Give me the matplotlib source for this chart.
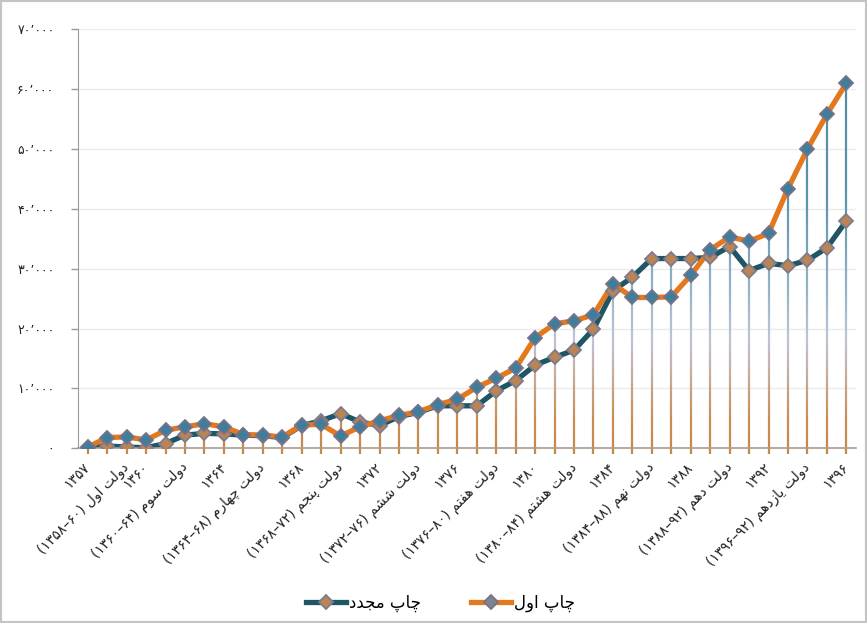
import numpy as np
import matplotlib.pyplot as plt
from matplotlib.collections import LineCollection
from matplotlib.colors import LinearSegmentedColormap
from matplotlib.lines import Line2D
from matplotlib.patches import Rectangle

plt.rcParams['font.family'] = ['DejaVu Sans']

years = list(range(1357, 1397))
first_print = [200, 1800, 1900, 1400, 3000, 3600, 4100, 3600, 2300, 2200,
               1900, 3900, 4000, 2050, 3600, 4600, 5500, 6100, 7300, 8200,
               10200, 11700, 13400, 18500, 20800, 21300, 22300, 27500, 25200, 25200,
               25300, 28900, 33200, 35300, 34600, 35900, 43400, 50000, 55800, 61000]
reprint = [100, 400, 200, 100, 800, 2200, 2500, 2400, 2200, 2100,
           1800, 3800, 4600, 5800, 4400, 3800, 5300, 6000, 7100, 7100,
           7100, 9600, 11300, 13900, 15200, 16400, 19900, 26300, 28600, 31700,
           31700, 31700, 31900, 33700, 29700, 30900, 30500, 31400, 33500, 38000]

year_ticks = [1357, 1360, 1364, 1368, 1372, 1376, 1380, 1384, 1388, 1392, 1396]
gov_ticks = [1359, 1362, 1366, 1370, 1374, 1378, 1382, 1386, 1390, 1394]
gov_names = ['دولت اول', 'دولت سوم', 'دولت چهارم', 'دولت پنجم', 'دولت ششم',
             'دولت هفتم', 'دولت هشتم', 'دولت نهم', 'دولت دهم', 'دولت یازدهم']
gov_spans = ['1358-60', '1360-64', '1364-68', '1368-72', '1372-76',
             '1376-80', '1380-84', '1384-88', '1388-92', '1396-92']
series_names = ['چاپ مجدد', 'چاپ اول']

FA = str.maketrans('0123456789-', '۰۱۲۳۴۵۶۷۸۹–')

# isolated, final, initial, medial
JOIN = {
    'ا': ('\ufe8d', '\ufe8e', None, None),
    'د': ('\ufea9', '\ufeaa', None, None),
    'ر': ('\ufead', '\ufeae', None, None),
    'ز': ('\ufeaf', '\ufeb0', None, None),
    'و': ('\ufeed', '\ufeee', None, None),
    'ب': ('\ufe8f', '\ufe90', '\ufe91', '\ufe92'),
    'پ': ('\ufb56', '\ufb57', '\ufb58', '\ufb59'),
    'ت': ('\ufe95', '\ufe96', '\ufe97', '\ufe98'),
    'ج': ('\ufe9d', '\ufe9e', '\ufe9f', '\ufea0'),
    'چ': ('\ufb7a', '\ufb7b', '\ufb7c', '\ufb7d'),
    'س': ('\ufeb1', '\ufeb2', '\ufeb3', '\ufeb4'),
    'ش': ('\ufeb5', '\ufeb6', '\ufeb7', '\ufeb8'),
    'ف': ('\ufed1', '\ufed2', '\ufed3', '\ufed4'),
    'ل': ('\ufedd', '\ufede', '\ufedf', '\ufee0'),
    'م': ('\ufee1', '\ufee2', '\ufee3', '\ufee4'),
    'ن': ('\ufee5', '\ufee6', '\ufee7', '\ufee8'),
    'ه': ('\ufee9', '\ufeea', '\ufeeb', '\ufeec'),
    'ی': ('\ufbfc', '\ufbfd', '\ufbfe', '\ufbff'),
}


def rtl(text):
    out = []
    for k, ch in enumerate(text):
        if ch not in JOIN:
            out.append(ch)
            continue
        prev = text[k - 1] if k > 0 else ''
        nxt = text[k + 1] if k + 1 < len(text) else ''
        a = prev in JOIN and JOIN[prev][2] is not None
        b = JOIN[ch][2] is not None and nxt in JOIN
        iso, fin, ini, med = JOIN[ch]
        out.append(med if a and b else fin if a else ini if b else iso)
    return ''.join(out)[::-1]


xlabels = [''] * len(years)
for y in year_ticks:
    xlabels[years.index(y)] = str(y).translate(FA)
for y, name, span in zip(gov_ticks, gov_names, gov_spans):
    xlabels[years.index(y)] = '(' + span.translate(FA) + ') ' + rtl(name)

x = np.arange(len(years))
fig = plt.figure(figsize=(8.67, 6.23), dpi=100)
ax = fig.add_axes([0.090, 0.2804, 0.8974, 0.6726])

# drop lines with a vertical gradient
cmap = LinearSegmentedColormap.from_list('drop', [
    (0.0, '#c8884a'), (0.07, '#c98d55'), (0.17, '#c6ab98'), (0.26, '#bcc5d6'),
    (0.4, '#8fb0c4'), (0.6, '#5d92ab'), (1.0, '#4f8aa6')])
segs, cols = [], []
for i in range(len(years)):
    top = max(first_print[i], reprint[i])
    edges = np.linspace(0, top, max(int(top / 300), 2) + 1)
    for lo, hi in zip(edges[:-1], edges[1:]):
        segs.append([(i, lo), (i, hi)])
        cols.append(cmap((lo + hi) / 2 / 70000))
ax.add_collection(LineCollection(segs, colors=cols, linewidths=1.6, zorder=1,
                                 capstyle='butt'))

ax.plot(x, reprint, color='#1f5565', lw=3.8, zorder=2, solid_joinstyle='round')
ax.plot(x, first_print, color='#e3791f', lw=3.8, zorder=3, solid_joinstyle='round')
ax.plot(x, reprint, ls='none', marker='D', ms=7.5, mfc='#bb8455', mec='#7d7b8c',
        mew=1.3, zorder=4)
ax.plot(x, first_print, ls='none', marker='D', ms=7.5, mfc='#3f7e9b', mec='#77728a',
        mew=1.3, zorder=5)

ax.set_xlim(-0.5, len(years) - 0.5)
ax.set_ylim(0, 70000)
yt = np.arange(0, 70001, 10000)
ax.set_yticks(yt, labels=[f'{v:,}'.replace(',', '\u066c').translate(FA) for v in yt])
ax.set_xticks(x, labels=xlabels)
plt.setp(ax.get_xticklabels(), rotation=45, ha='right', va='center',
         rotation_mode='anchor', fontsize=10, color='#222222')
ax.tick_params(axis='x', length=4, width=1.6, color='#c8884a', pad=8)
ax.tick_params(axis='y', length=5, width=1, color='#9a9a9a', pad=12,
               labelsize=9, labelcolor='#222222')

ax.grid(axis='y', color='#ebebeb', lw=1)
ax.set_axisbelow(True)
for s in ['top', 'right']:
    ax.spines[s].set_visible(False)
ax.spines['left'].set_color('#9a9a9a')
ax.spines['bottom'].set_color('#a89c90')
ax.spines['bottom'].set_linewidth(1.2)

handles = [
    Line2D([], [], color='#1f5565', lw=3.8, marker='D', ms=7.5, mfc='#bb8455',
           mec='#7d7b8c', mew=1.3),
    Line2D([], [], color='#e3791f', lw=3.8, marker='D', ms=7.5, mfc='#7d8590',
           mec='#77728a', mew=1.3),
]
fig.legend(handles, [rtl(n) for n in series_names], loc='center',
           bbox_to_anchor=(0.508, 0.032), ncol=2, frameon=False, fontsize=12,
           handlelength=2.4, handletextpad=0.2, columnspacing=3.0)

fig.patches.append(Rectangle((0, 0), 1, 1, transform=fig.transFigure, fill=False,
                             edgecolor='#c4c4c4', lw=3))

fig.savefig('out.png', dpi=100)
